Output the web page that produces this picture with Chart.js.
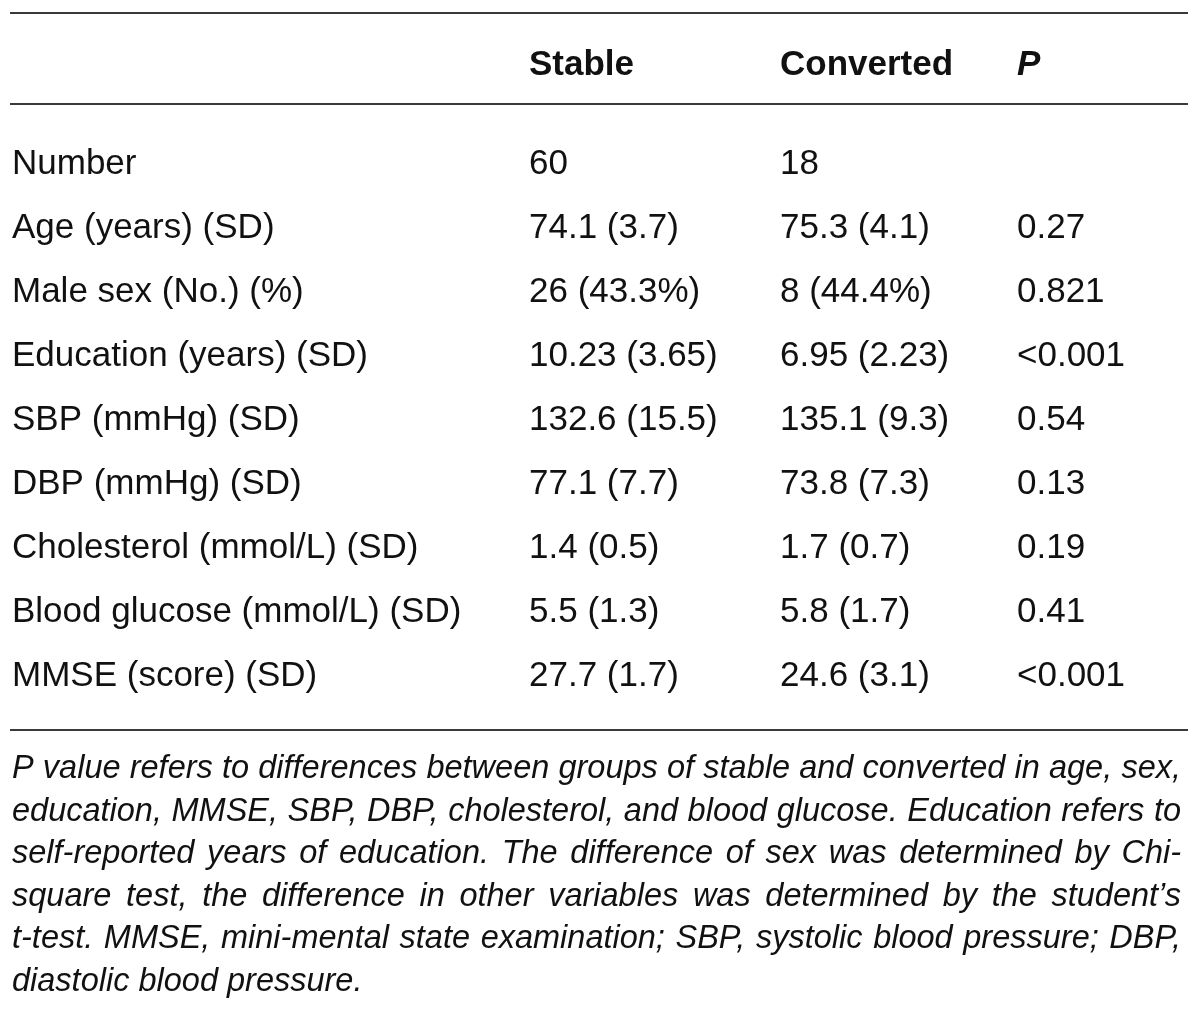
<!DOCTYPE html>
<html>
<head>
<meta charset="utf-8">
<script src="https://cdn.jsdelivr.net/npm/chart.js@4/dist/chart.umd.min.js"></script>
<style>
  html, body { margin: 0; padding: 0; background: #fff; }
  #wrap { width: 1200px; height: 1015px; position: relative; }
</style>
</head>
<body>
<div id="wrap"><canvas id="tblChart"></canvas></div>
<script>
// table content
const headers = ['Stable', 'Converted', 'P'];
const rowLabels = [
    'Number',
    'Age (years) (SD)',
    'Male sex (No.) (%)',
    'Education (years) (SD)',
    'SBP (mmHg) (SD)',
    'DBP (mmHg) (SD)',
    'Cholesterol (mmol/L) (SD)',
    'Blood glucose (mmol/L) (SD)',
    'MMSE (score) (SD)'
];
const stable = ['60', '74.1 (3.7)', '26 (43.3%)', '10.23 (3.65)', '132.6 (15.5)', '77.1 (7.7)', '1.4 (0.5)', '5.5 (1.3)', '27.7 (1.7)'];
const converted = ['18', '75.3 (4.1)', '8 (44.4%)', '6.95 (2.23)', '135.1 (9.3)', '73.8 (7.3)', '1.7 (0.7)', '5.8 (1.7)', '24.6 (3.1)'];
const pValues = ['', '0.27', '0.821', '<0.001', '0.54', '0.13', '0.19', '0.41', '<0.001'];
const footnote = [
    'P value refers to differences between groups of stable and converted in age, sex,',
    'education, MMSE, SBP, DBP, cholesterol, and blood glucose. Education refers to',
    'self-reported years of education. The difference of sex was determined by Chi-',
    'square test, the difference in other variables was determined by the student\u2019s',
    't-test. MMSE, mini-mental state examination; SBP, systolic blood pressure; DBP,',
    'diastolic blood pressure.'
];

// layout (pixel units of the hidden scales)
const colX = [12, 529, 780, 1017];
const headerY = 75;
const firstRowY = 174;
const rowStep = 64;
const ruleY = [13, 104, 730];
const ruleX = [10, 1188];
const noteY = 778;
const noteStep = 42.6;
const noteRight = 1181;

const FONT = '"Liberation Sans", Arial, sans-serif';
const INK = '#111';

function cellPoints(col, n) {
    const pts = [];
    for (let i = 0; i < n; i++) {
        pts.push({ x: colX[col], y: firstRowY + i * rowStep });
    }
    return pts;
}

const datasets = [];
ruleY.forEach(function (y) {
    datasets.push({
        type: 'line',
        data: [{ x: ruleX[0], y: y }, { x: ruleX[1], y: y }],
        borderColor: '#3a3a3a',
        borderWidth: 2,
        pointRadius: 0
    });
});

// header cells
datasets.push({
    type: 'scatter',
    data: headers.map(function (h, i) { return { x: colX[i + 1], y: headerY }; }),
    texts: headers,
    fonts: ['bold 35px ' + FONT, 'bold 35px ' + FONT, 'italic bold 35px ' + FONT],
    pointRadius: 0
});

// body cells, one dataset per column
[rowLabels, stable, converted, pValues].forEach(function (col, c) {
    datasets.push({
        type: 'scatter',
        data: cellPoints(c, col.length),
        texts: col,
        fonts: col.map(function () { return '35px ' + FONT; }),
        pointRadius: 0
    });
});

const textPlugin = {
    id: 'cellText',
    afterDatasetsDraw(chart) {
        const ctx = chart.ctx;
        ctx.save();
        ctx.fillStyle = INK;
        ctx.textBaseline = 'alphabetic';
        ctx.textAlign = 'left';
        chart.data.datasets.forEach(function (ds, di) {
            if (!ds.texts) return;
            const meta = chart.getDatasetMeta(di);
            meta.data.forEach(function (pt, i) {
                ctx.font = ds.fonts[i];
                ctx.fillText(ds.texts[i], pt.x, pt.y);
            });
        });

        // footnote, justified except last line
        const xs = chart.scales.x;
        const ys = chart.scales.y;
        const left = xs.getPixelForValue(colX[0]);
        const right = xs.getPixelForValue(noteRight);
        ctx.font = 'italic 32.5px ' + FONT;
        footnote.forEach(function (line, i) {
            const y = ys.getPixelForValue(noteY + i * noteStep);
            const words = line.split(' ');
            if (i === footnote.length - 1 || words.length < 2) {
                ctx.fillText(line, left, y);
                return;
            }
            let wordsW = 0;
            words.forEach(function (w) { wordsW += ctx.measureText(w).width; });
            const gap = (right - left - wordsW) / (words.length - 1);
            let x = left;
            words.forEach(function (w) {
                ctx.fillText(w, x, y);
                x += ctx.measureText(w).width + gap;
            });
        });
        ctx.restore();
    }
};

const tblChart = new Chart(document.getElementById('tblChart').getContext('2d'), {
    type: 'scatter',
    data: { datasets: datasets },
    options: {
        responsive: true,
        maintainAspectRatio: false,
        animation: false,
        layout: { padding: 0 },
        plugins: { legend: { display: false }, tooltip: { enabled: false } },
        scales: {
            x: { type: 'linear', display: false, min: 0, max: 1200 },
            y: { type: 'linear', display: false, min: 0, max: 1015, reverse: true }
        }
    },
    plugins: [textPlugin]
});
</script>
</body>
</html>
